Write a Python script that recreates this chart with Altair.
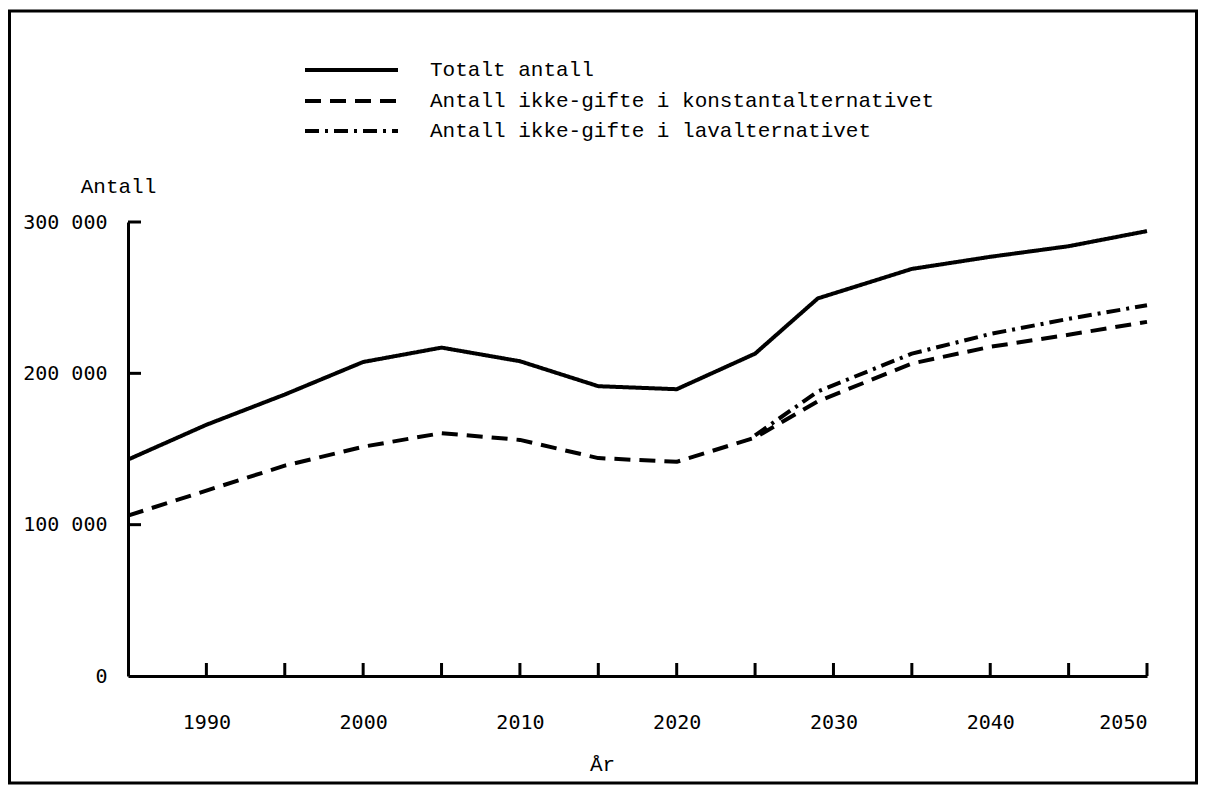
import altair as alt
import pandas as pd

# ---- data ----
years = [1985, 1990, 1995, 2000, 2005, 2010, 2015, 2020, 2025, 2029, 2035, 2040, 2045, 2050]
totalt = [143000, 166000, 186000, 207500, 217000, 208000, 191500, 189500, 213000, 249500, 269000, 277000, 284000, 294000]
konstant = [106000, 122500, 139000, 151500, 160500, 156000, 144000, 141500, 157500, 181500, 206500, 217500, 225500, 234000]
lav_years = [2025, 2029, 2035, 2040, 2045, 2050]
lav = [159000, 188000, 213000, 226000, 236000, 245000]

series = ["Totalt antall",
          "Antall ikke-gifte i konstantalternativet",
          "Antall ikke-gifte i lavalternativet"]
x_ticks = [1990, 1995, 2000, 2005, 2010, 2015, 2020, 2025, 2030, 2035, 2040, 2045, 2050]
x_labels = [1990, 2000, 2010, 2020, 2030, 2040, 2050]
y_ticks = [0, 100000, 200000, 300000]

rows = []
for y, v in zip(years, totalt):
    rows.append({"year": y, "value": v, "series": series[0]})
for y, v in zip(years, konstant):
    rows.append({"year": y, "value": v, "series": series[1]})
for y, v in zip(lav_years, lav):
    rows.append({"year": y, "value": v, "series": series[2]})
df = pd.DataFrame(rows)

W, H = 1019, 454
MONO = "Liberation Mono"
NUM = "DejaVu Sans Mono"

xs = alt.Scale(domain=[1985, 2050], nice=False, zero=False)
ys = alt.Scale(domain=[0, 300000], nice=False)
dash_scale = alt.Scale(domain=series, range=[[1, 0], [16, 9], [14, 6, 3, 6]])

ax_x = alt.Axis(values=x_labels, format="d", grid=False, tickSize=0,
                domainColor="black", domainWidth=3,
                labelFont=NUM, labelFontSize=20, labelColor="black",
                labelPadding=36,
                title="År", titleFont=MONO, titleFontSize=21,
                titleFontWeight="normal", titleColor="black",
                titleX=474, titleY=88, titleBaseline="middle")
ax_y = alt.Axis(values=y_ticks, grid=False, tickSize=0,
                domainColor="black", domainWidth=3,
                labelExpr="replace(format(datum.value, ','), ',', ' ')",
                labelFont=NUM, labelFontSize=20, labelColor="black",
                labelPadding=21, labelBaseline="middle",
                title="Antall", titleFont=MONO, titleFontSize=21,
                titleFontWeight="normal", titleColor="black",
                titleAngle=0, titleX=-10, titleY=-36,
                titleAlign="center", titleBaseline="middle")

lines = alt.Chart(df).mark_line(color="black", strokeWidth=4, strokeJoin="round").encode(
    x=alt.X("year:Q", scale=xs, axis=ax_x),
    y=alt.Y("value:Q", scale=ys, axis=ax_y),
    strokeDash=alt.StrokeDash("series:N", scale=dash_scale, legend=None),
    detail="series:N",
)

xt = alt.Chart(pd.DataFrame({"year": x_ticks})).mark_rule(color="black", strokeWidth=3).encode(
    x=alt.X("year:Q", scale=xs, axis=ax_x),
    y=alt.value(H),
    y2=alt.value(H - 13),
)

yt = alt.Chart(pd.DataFrame({"value": y_ticks[1:]})).mark_rule(color="black", strokeWidth=3).encode(
    y=alt.Y("value:Q", scale=ys, axis=ax_y),
    x=alt.value(0),
    x2=alt.value(13),
)

frame = alt.Chart(alt.Data(values=[{"a": 1}])).mark_rect(
    filled=False, stroke="black", strokeWidth=3
).encode(
    x=alt.value(-118.5), x2=alt.value(1068.5),
    y=alt.value(-211), y2=alt.value(561),
)

leg_df = pd.DataFrame({"series": series})
row_y = [70 - 222, 101 - 222, 131 - 222]
legend_layers = []
for i, s in enumerate(series):
    base = alt.Chart(leg_df).transform_filter(alt.datum.series == s)
    legend_layers.append(
        base.mark_rule(color="black", strokeWidth=4).encode(
            x=alt.value(177), x2=alt.value(270), y=alt.value(row_y[i]),
            strokeDash=alt.StrokeDash("series:N", scale=dash_scale, legend=None),
        )
    )
    legend_layers.append(
        base.mark_text(align="left", baseline="middle", font=MONO, fontSize=21, color="black").encode(
            x=alt.value(302), y=alt.value(row_y[i]), text="series:N",
        )
    )

chart = alt.layer(lines, xt, yt, frame, *legend_layers).properties(
    width=W, height=H,
    autosize=alt.AutoSizeParams(type="none"),
    padding={"left": 120, "top": 214, "right": 51, "bottom": 110},
    background="white",
).configure_view(stroke=None)

chart.save("out.html", embed_options={"renderer": "svg", "actions": False})
